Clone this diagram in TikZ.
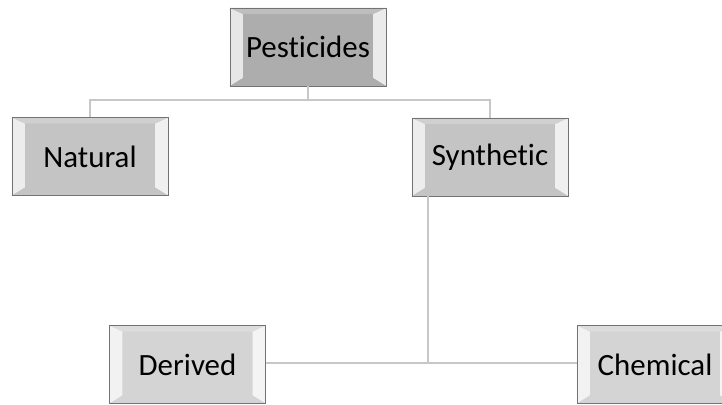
\documentclass[tikz,border=0pt]{standalone}
\usepackage{fontspec}
\setmainfont{Carlito}[Ligatures={NoCommon,NoRequired,NoContextual}]
\usepackage{tikz}
\usetikzlibrary{positioning, calc}

\begin{document}
\begin{tikzpicture}[
    x=0.025cm, y=-0.025cm,
    font=\fontsize{22}{26}\selectfont,
    box/.style={draw=black!55, line width=0.6pt, minimum width=3.9cm, minimum height=1.95cm,
        inner sep=0pt, outer sep=0pt, align=center,
        path picture={
            \path (path picture bounding box.north west) coordinate (nw)
                  (path picture bounding box.south east) coordinate (se);
            \fill[white!70!#1] (nw) -- ([shift={(.325cm,-.15cm)}]nw) -- ([shift={(.325cm,.2cm)}]nw|-se) -- (nw|-se) -- cycle;
            \fill[white!75!#1] (se) -- ([shift={(-.325cm,.2cm)}]se) -- ([shift={(-.325cm,-.15cm)}]se|-nw) -- (se|-nw) -- cycle;
            \fill[white!20!#1] (nw) -- ([shift={(.325cm,-.15cm)}]nw) -- ([shift={(-.325cm,-.15cm)}]se|-nw) -- (se|-nw) -- cycle;
            \fill[black!10!#1] (se) -- ([shift={(-.325cm,.2cm)}]se) -- ([shift={(.325cm,.2cm)}]nw|-se) -- (nw|-se) -- cycle;
        }},
    box/.default=black!22,
    link/.style={draw=black!22, line width=1.8pt},
]
\useasboundingbox (0,0) rectangle (722,404);
% top
\node[box={black!32}, fill=black!32] (pest) at (308,47) {Pesticides};
% second level
\node[box={black!23}, fill=black!23] (nat) at (90,156.5) {Natural};
\node[box={black!23}, fill=black!23] (syn) at (490,157) {Synthetic};
% third level
\node[box={black!17}, fill=black!17] (der) at (187.5,364.5) {Derived};
\node[box={black!17}, fill=black!17] (chem) at (655,364.5) {Chemical};

\coordinate (split) at (308,100);
\coordinate (join) at (428,363);
\draw[link] (pest.south) -- (split) -| (nat.north);
\draw[link] (split) -| (syn.north);
\draw[link] (der.east |- join) -- (chem.west |- join);
\draw[link] (syn.south -| join) -- (join);
\end{tikzpicture}
\end{document}
